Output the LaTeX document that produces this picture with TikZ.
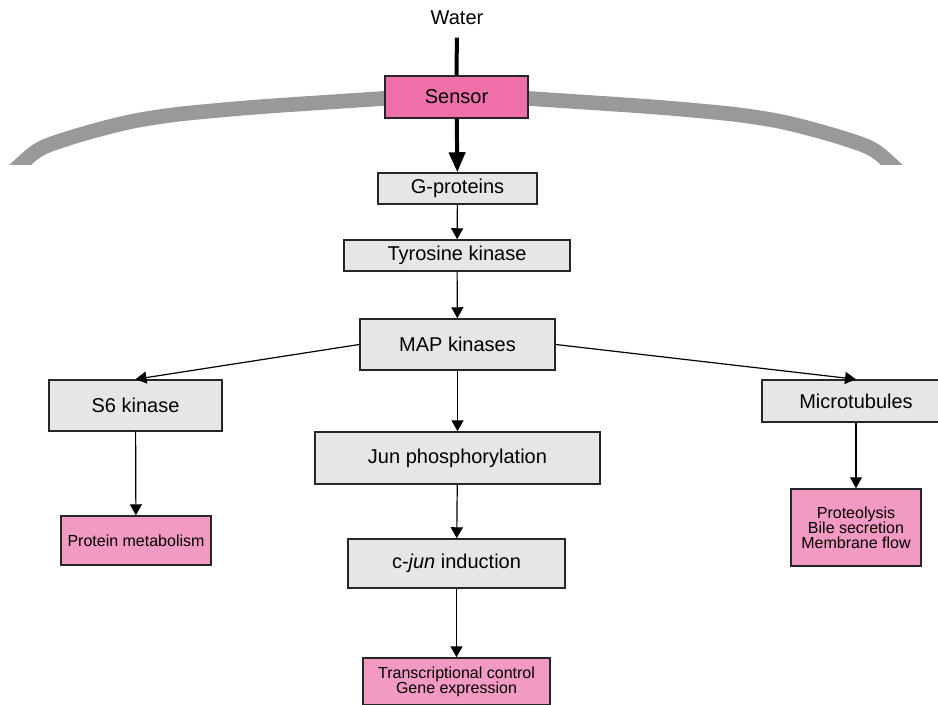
\documentclass[tikz,border=0pt]{standalone}
\usepackage{fontspec}
\setmainfont{Liberation Sans}
\usetikzlibrary{arrows.meta}

\definecolor{boxgray}{HTML}{E6E6E6}
\definecolor{sensorpink}{HTML}{EF6FA8}
\definecolor{resultpink}{HTML}{F39AC2}
\definecolor{membranegray}{HTML}{999999}

\begin{document}
\begin{tikzpicture}[x=0.75pt,y=-0.75pt,
	box/.style={draw=black!85,line width=1.1pt,fill=boxgray,inner sep=0pt,font=\fontsize{15}{17}\selectfont},
	result/.style={box,fill=resultpink,align=center,font=\fontsize{12}{11.25}\selectfont},
	flow/.style={-{Triangle[length=8.25pt,width=9pt]},line width=0.9pt},
	signal/.style={line width=3pt},
	membrane/.style={line width=11pt,draw=membranegray}]
	\useasboundingbox (0,0) rectangle (938,705);
	\begin{scope}
		\clip (0,0) rectangle (938,165);
		\draw[membrane] plot[smooth,tension=0.6] coordinates {(11,174) (20,165) (40,149) (67,138.8)
			(100,129.2) (133,121.2) (167,115.7) (200,112) (267,106.3) (383,98.5) (456,93.5)
			(529,98.5) (645,106.3) (712,112) (745,115.7) (779,121.2) (812,129.2) (845,138.8)
			(872,149) (892,165) (901,174)};
	\end{scope}
	\node[font=\fontsize{15}{17}\selectfont] (water) at (457,18) {Water};
	\node[box,fill=sensorpink,minimum width=107.25pt,minimum height=31.5pt] (sensor) at (456.5,97) {Sensor};
	\node[box,minimum width=119.25pt,minimum height=23.25pt] (gprot) at (457.5,188.5) {G-proteins};
	\node[box,minimum width=169.5pt,minimum height=23.25pt] (tyrk) at (457,255.5) {Tyrosine kinase};
	\node[box,minimum width=146.25pt,minimum height=38.25pt] (mapk) at (457.5,344.5) {MAP kinases};
	\node[box,minimum width=129.75pt,minimum height=38.25pt] (s6k) at (135.5,405.5) {S6 kinase};
	\node[box,minimum width=141pt,minimum height=31.5pt] (micro) at (856,401) {Microtubules};
	\node[box,minimum width=213.75pt,minimum height=39pt] (junp) at (457.5,458) {Jun phosphorylation};
	\node[box,minimum width=162.75pt,minimum height=36.75pt] (cjun) at (456.5,563.5) {c-\textit{jun} induction};
	\node[result,minimum width=112.5pt,minimum height=36.75pt] (protmet) at (136,540.5) {Protein metabolism};
	\node[result,minimum width=97.5pt,minimum height=57.75pt] (proteo) at (856,527.5) {Proteolysis\\Bile secretion\\Membrane flow};
	\node[result,minimum width=140.25pt,minimum height=35.25pt] (transc) at (456.5,681.5) {Transcriptional control\\Gene expression};

	\draw[signal,shorten <=6pt] (water.south) -- (sensor.north);
	\draw[signal,-{Triangle[length=15pt,width=12pt]}] (sensor) -- (gprot);
	\draw[flow] (gprot) -- (tyrk);
	\draw[flow] (tyrk) -- (mapk);
	\draw[flow] (mapk.west) -- (s6k.north);
	\draw[flow] (mapk.east) -- (micro.north);
	\draw[flow] (mapk) -- (junp);
	\draw[flow] (junp) -- (cjun);
	\draw[flow] (cjun) -- (transc);
	\draw[flow] (s6k) -- (protmet);
	\draw[flow] (micro) -- (proteo);
\end{tikzpicture}
\end{document}
